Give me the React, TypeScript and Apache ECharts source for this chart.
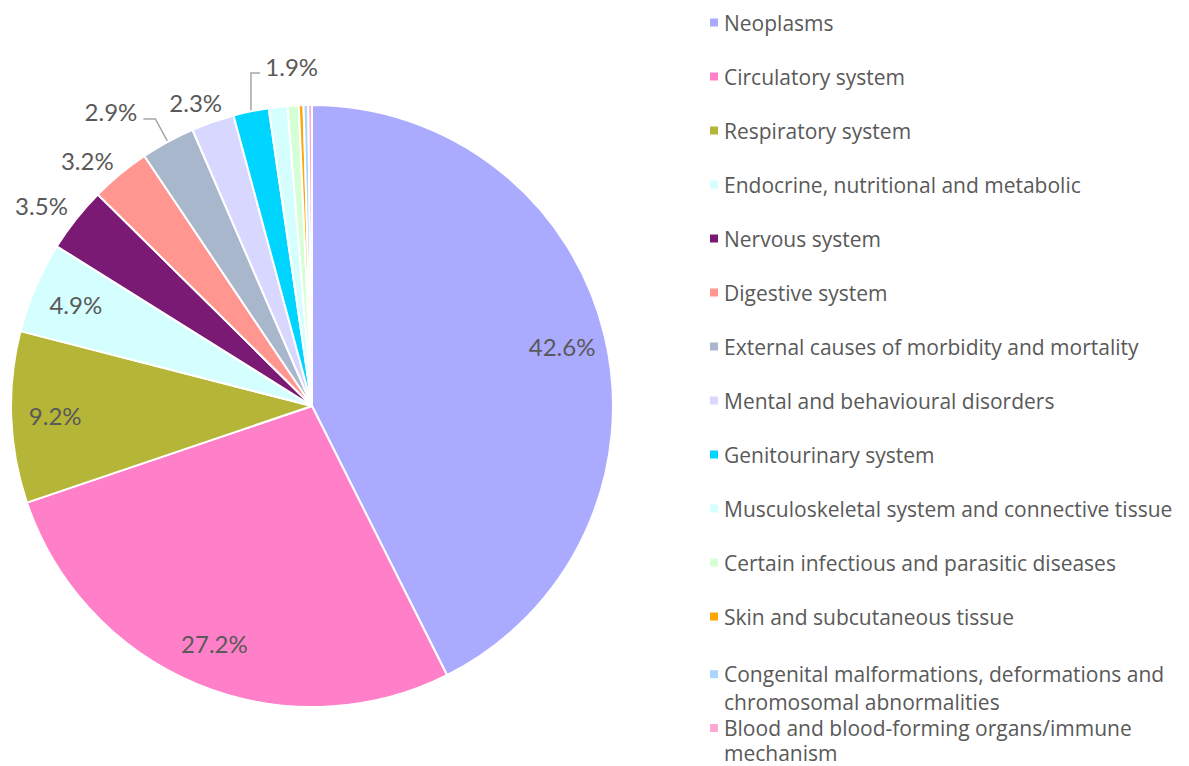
import React, { useEffect, useRef } from "react";
import * as echarts from "echarts";

const categories = [
  "Neoplasms",
  "Circulatory system",
  "Respiratory system",
  "Endocrine, nutritional and metabolic",
  "Nervous system",
  "Digestive system",
  "External causes of morbidity and mortality",
  "Mental and behavioural disorders",
  "Genitourinary system",
  "Musculoskeletal system and connective tissue",
  "Certain infectious and parasitic diseases",
  "Skin and subcutaneous tissue",
  "Congenital malformations, deformations and chromosomal abnormalities",
  "Blood and blood-forming organs/immune mechanism",
];

const shares = [42.6, 27.2, 9.2, 4.9, 3.5, 3.2, 2.9, 2.3, 1.9, 1.0, 0.6, 0.25, 0.25, 0.2];

const legendLabels = [
  "Neoplasms",
  "Circulatory system",
  "Respiratory system",
  "Endocrine, nutritional and metabolic",
  "Nervous system",
  "Digestive system",
  "External causes of morbidity and mortality",
  "Mental and behavioural disorders",
  "Genitourinary system",
  "Musculoskeletal system and connective tissue",
  "Certain infectious and parasitic diseases",
  "Skin and subcutaneous tissue",
  "\nCongenital malformations, deformations and\nchromosomal abnormalities",
  "\nBlood and blood-forming organs/immune\nmechanism",
];

const colors = [
  "#AAAAFF",
  "#FF80C8",
  "#B5B537",
  "#D5FFFF",
  "#7B1A75",
  "#FF9690",
  "#A9B7CC",
  "#D7D7FF",
  "#00D5FF",
  "#D5FFFF",
  "#D5FFD5",
  "#FFA500",
  "#AAD5FF",
  "#FFAAD5",
];

const insideLabelled = ["Neoplasms", "Circulatory system", "Respiratory system", "Endocrine, nutritional and metabolic"];

// outside label placement tweaks (style config); lift = px to raise the text above its line
const outsideLabelStyle: Record<string, any> = {
  "Nervous system": { len: 23, len2: 0, dist: -10, line: false, lift: 0 },
  "Digestive system": { len: 18, len2: 0, dist: -5, line: false, lift: 0 },
  "External causes of morbidity and mortality": { len: 26, len2: 12, dist: 6, line: true, lift: 7 },
  "Mental and behavioural disorders": { len: 20, len2: 0, dist: -16, line: false, lift: 0 },
  "Genitourinary system": { len: 39, len2: -17, dist: -58, line: true, lift: 7 },
};

const TEXT = "#595959";
const LABEL_FONT = "Lato";
const LEGEND_FONT = "Open Sans";

export default function App() {
  const ref = useRef<HTMLDivElement>(null);

  useEffect(() => {
    if (!ref.current) return;
    const chart = echarts.init(ref.current, undefined, { renderer: "svg" });

    const pct = (v: number) => `${Number(v).toFixed(1)}%`;

    const mainData = categories.map((name, i) => {
      const o = outsideLabelStyle[name];
      const item: any = {
        name,
        value: shares[i],
        itemStyle: { color: colors[i] },
      };
      if (o) {
        item.label = {
          show: true,
          distanceToLabelLine: o.dist,
          lineHeight: o.lift ? o.lift * 2 : 24,
          formatter: (p: any) => (o.lift ? pct(p.value) + "\n" : pct(p.value)),
        };
        item.labelLine = { show: o.line, length: o.len, length2: o.len2 };
      } else {
        item.label = { show: false };
        item.labelLine = { show: false };
      }
      return item;
    });

    const overlayData = categories.map((name, i) => ({
      name,
      value: shares[i],
      label: { show: insideLabelled.includes(name) },
    }));

    const legendItem = (i: number) => ({
      name: categories[i],
      itemStyle: { color: colors[i] },
    });

    const nameMap: Record<string, string> = {};
    categories.forEach((c, i) => (nameMap[c] = legendLabels[i]));

    const legendBase = {
      orient: "vertical",
      left: 708,
      padding: 0,
      itemWidth: 10,
      itemHeight: 10,
      icon: "rect",
      selectedMode: false,
      formatter: (n: string) => nameMap[n],
    };

    const option: any = {
      animation: false,
      backgroundColor: "#ffffff",
      legend: [
        {
          ...legendBase,
          top: 12,
          height: 740,
          itemGap: 33,
          data: categories.slice(0, 12).map((_, i) => legendItem(i)),
          textStyle: { color: TEXT, fontFamily: LEGEND_FONT, fontSize: 21 },
        },
        {
          ...legendBase,
          top: 633,
          height: 130,
          data: [legendItem(12)],
          textStyle: { color: TEXT, fontFamily: LEGEND_FONT, fontSize: 21, lineHeight: 27.5 },
        },
        {
          ...legendBase,
          top: 690,
          height: 76,
          data: [legendItem(13)],
          textStyle: { color: TEXT, fontFamily: LEGEND_FONT, fontSize: 21, lineHeight: 25.3 },
        },
      ],
      series: [
        {
          type: "pie",
          center: [312, 406],
          radius: [0, 301],
          startAngle: 90,
          clockwise: true,
          avoidLabelOverlap: false,
          silent: true,
          itemStyle: { borderColor: "#ffffff", borderWidth: 2 },
          label: {
            position: "outside",
            color: TEXT,
            fontFamily: LABEL_FONT,
            fontSize: 24,
          },
          labelLine: {
            lineStyle: { color: "#A6A6A6", width: 1.5 },
            smooth: false,
          },
          emphasis: { disabled: true },
          data: mainData,
        },
        {
          type: "pie",
          center: [312, 406],
          radius: [0, 508],
          startAngle: 90,
          clockwise: true,
          avoidLabelOverlap: false,
          silent: true,
          itemStyle: { color: "rgba(0,0,0,0)", borderWidth: 0 },
          label: {
            position: "inside",
            formatter: (p: any) => pct(p.value),
            color: TEXT,
            fontFamily: LABEL_FONT,
            fontSize: 24,
          },
          labelLine: { show: false },
          emphasis: { disabled: true },
          data: overlayData,
        },
      ],
    };

    chart.setOption(option);
    return () => chart.dispose();
  }, []);

  return (
    <div
      ref={ref}
      style={{ position: "fixed", left: 0, top: 0, width: 1189, height: 766 }}
    />
  );
}
